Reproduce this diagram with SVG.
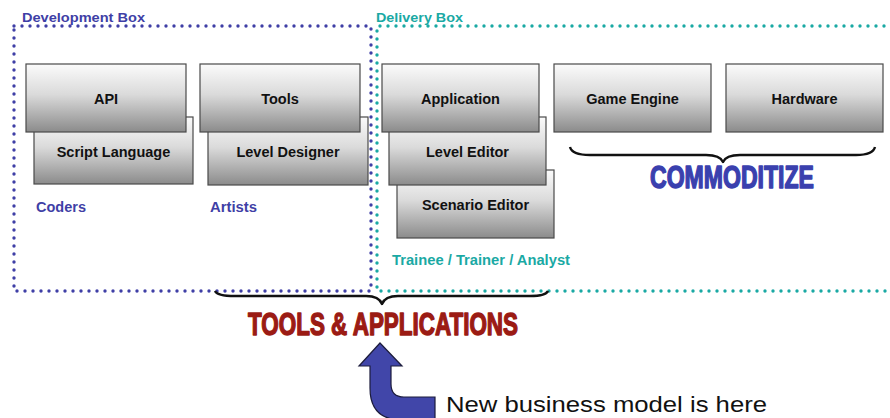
<svg xmlns="http://www.w3.org/2000/svg" width="890" height="418" viewBox="0 0 890 418">
  <defs>
    <linearGradient id="boxFill" x1="0" y1="0" x2="0" y2="1">
      <stop offset="0" stop-color="#fbfbfb"/>
      <stop offset="0.45" stop-color="#dadada"/>
      <stop offset="1" stop-color="#8b8b8b"/>
    </linearGradient>
    <style>
      .box { fill: url(#boxFill); stroke: #4a4a4a; stroke-width: 1.2; }
      .lbl { font-family: "Liberation Sans", Arial, sans-serif; font-weight: bold; font-size: 14.5px; fill: #111; text-anchor: middle; }
      .dev { fill: none; stroke: #3f3fa6; stroke-width: 3.4; stroke-linecap: round; stroke-dasharray: 0 8; }
      .del { fill: none; stroke: #1aa9a4; stroke-width: 3.4; stroke-linecap: round; stroke-dasharray: 0 8; }
      .devtxt { font-family: "Liberation Sans", Arial, sans-serif; font-weight: bold; fill: #3f3fa6; }
      .deltxt { font-family: "Liberation Sans", Arial, sans-serif; font-weight: bold; fill: #1aa9a4; }
      .brace { fill: none; stroke: #111; stroke-width: 2.4; stroke-linejoin: round; }
      .big { font-family: "Liberation Sans", Arial, sans-serif; font-weight: bold; font-size: 32px; stroke-width: 1.5; stroke-linejoin: round; }
    </style>
  </defs>

  <rect width="890" height="418" fill="#ffffff"/>

  <!-- dotted region outlines -->
  <g id="regions">
    <rect class="dev" x="14" y="26" width="357" height="265"/>
    <path class="del" d="M900,26 H377 V291 H900"/>
    <text class="devtxt" x="22" y="22" font-size="13" textLength="123" lengthAdjust="spacingAndGlyphs">Development Box</text>
    <text class="deltxt" x="376" y="22" font-size="13" textLength="87" lengthAdjust="spacingAndGlyphs">Delivery Box</text>
    <text class="devtxt" x="36" y="212" font-size="14" textLength="50" lengthAdjust="spacingAndGlyphs">Coders</text>
    <text class="devtxt" x="210" y="212" font-size="14" textLength="47" lengthAdjust="spacingAndGlyphs">Artists</text>
    <text class="deltxt" x="392" y="265" font-size="14" textLength="178" lengthAdjust="spacingAndGlyphs">Trainee / Trainer / Analyst</text>
  </g>

  <!-- development column: API over Script Language -->
  <g id="script-language">
    <rect class="box" x="34" y="117" width="159" height="67"/>
    <text class="lbl" x="113.5" y="157">Script Language</text>
  </g>
  <g id="api">
    <rect class="box" x="26" y="64" width="160" height="68"/>
    <text class="lbl" x="106" y="104">API</text>
  </g>

  <!-- development column: Tools over Level Designer -->
  <g id="level-designer">
    <rect class="box" x="208" y="117" width="160" height="68"/>
    <text class="lbl" x="288" y="157">Level Designer</text>
  </g>
  <g id="tools">
    <rect class="box" x="200" y="64" width="160" height="68"/>
    <text class="lbl" x="280" y="104">Tools</text>
  </g>

  <!-- delivery stack: Application, Level Editor, Scenario Editor -->
  <g id="scenario-editor">
    <rect class="box" x="397" y="170" width="157" height="68"/>
    <text class="lbl" x="475.5" y="210">Scenario Editor</text>
  </g>
  <g id="level-editor">
    <rect class="box" x="389" y="117" width="157" height="68"/>
    <text class="lbl" x="467.5" y="157">Level Editor</text>
  </g>
  <g id="application">
    <rect class="box" x="382" y="64" width="157" height="68"/>
    <text class="lbl" x="460.5" y="104">Application</text>
  </g>

  <g id="game-engine">
    <rect class="box" x="554" y="64" width="157" height="68"/>
    <text class="lbl" x="632.5" y="104">Game Engine</text>
  </g>
  <g id="hardware">
    <rect class="box" x="726" y="64" width="157" height="68"/>
    <text class="lbl" x="804.5" y="104">Hardware</text>
  </g>

  <!-- braces and their captions -->
  <g id="braces">
    <path class="brace" d="M570,147 Q572,155 590,155 L706,155 Q720,155 723,162 Q726,155 740,155 L856,155 Q873,155 875,147"/>
    <text class="big" x="650" y="188" fill="#3a40ae" stroke="#3a40ae" textLength="164" lengthAdjust="spacingAndGlyphs">COMMODITIZE</text>
    <path class="brace" d="M215,291 Q217,296 235,296 L366,296 Q379,296 382,304 Q385,296 398,296 L530,296 Q546,296 548,291"/>
    <text class="big" x="248" y="335" fill="#9b1b14" stroke="#9b1b14" textLength="270" lengthAdjust="spacingAndGlyphs">TOOLS &amp; APPLICATIONS</text>
  </g>

  <!-- curved pointer arrow -->
  <g id="connectors">
    <path d="M380,343 L402,366 L391,366 L391,384 Q391,397 404,397 L435,397 L435,420 L402,420 Q370,420 370,388 L370,366 L359,366 Z" fill="#4146a9" stroke="#1c1c3c" stroke-width="1.2" stroke-linejoin="miter"/>
  </g>

  <g id="note">
    <text x="446" y="412" font-family="'Liberation Sans', Arial, sans-serif" font-size="22" fill="#111" textLength="321" lengthAdjust="spacingAndGlyphs">New business model is here</text>
  </g>
</svg>
